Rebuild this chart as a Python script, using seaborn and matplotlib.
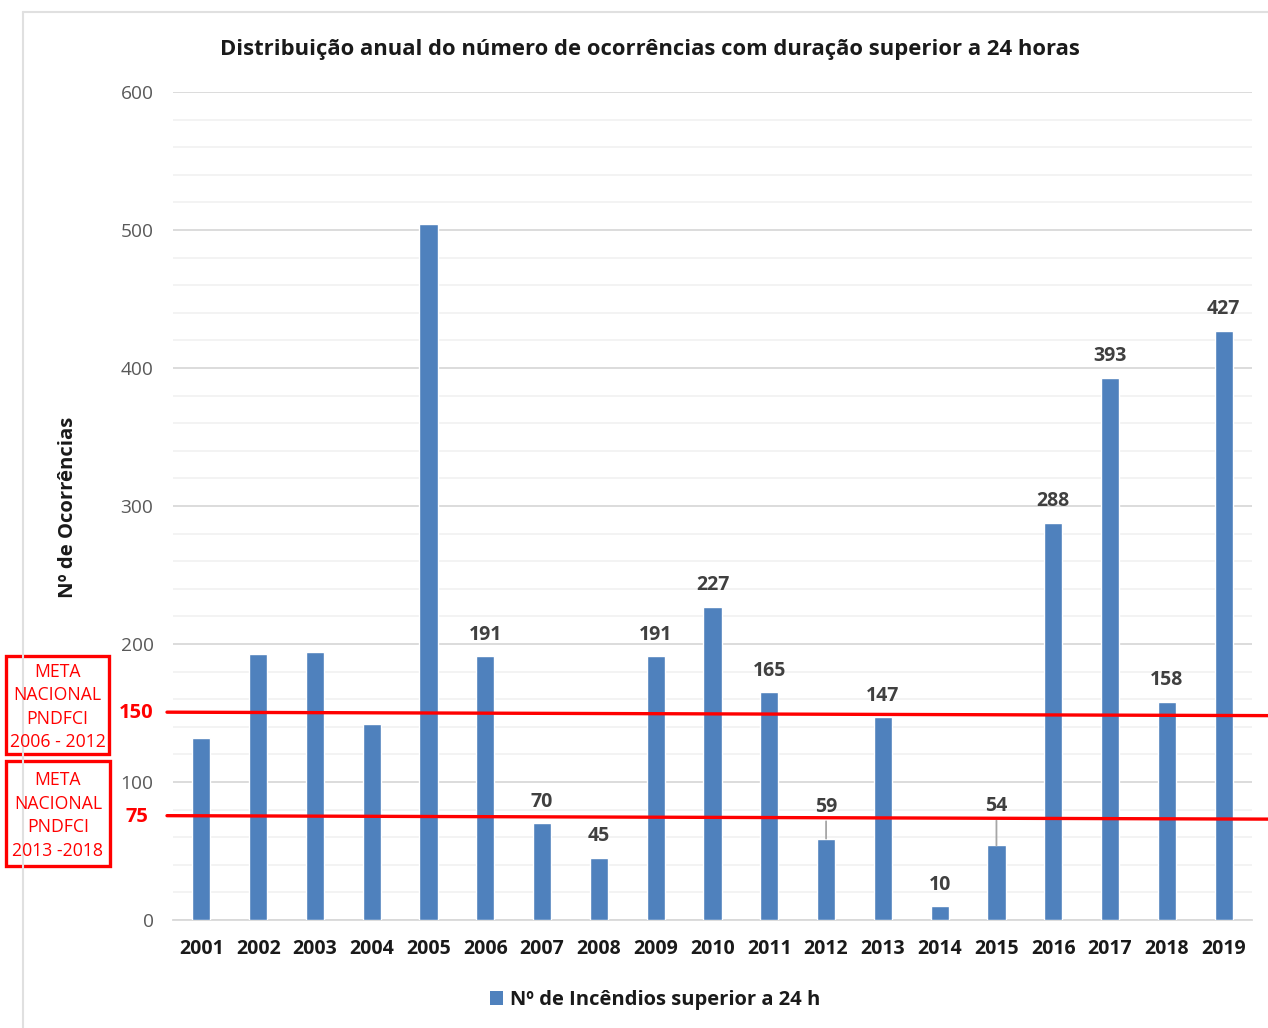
import matplotlib
matplotlib.use("Agg")
import matplotlib.pyplot as plt
import seaborn as sns
import pandas as pd
from matplotlib.patches import Patch, Rectangle
from matplotlib.lines import Line2D

# ---- data ----
years = ["2001", "2002", "2003", "2004", "2005", "2006", "2007", "2008", "2009", "2010",
         "2011", "2012", "2013", "2014", "2015", "2016", "2017", "2018", "2019"]
values = [132, 193, 194, 142, 504, 191, 70, 45, 191, 227,
          165, 59, 147, 10, 54, 288, 393, 158, 427]
labelled = [False, False, False, False, False, True, True, True, True, True,
            True, True, True, True, True, True, True, True, True]
goal_values = [150, 75]
goal_texts = ["META\nNACIONAL\nPNDFCI\n2006 - 2012", "META\nNACIONAL\nPNDFCI\n2013 -2018"]
title = "Distribuição anual do número de ocorrências com duração superior a 24 horas"
ylabel = "Nº de Ocorrências"
legend_label = "Nº de Incêndios superior a 24 h"

df = pd.DataFrame({"ano": years, "n": values})

sns.set_theme(style="white")
plt.rcParams["font.family"] = ["Open Sans", "DejaVu Sans"]

W, H = 1268, 1028
fig = plt.figure(figsize=(W / 100, H / 100), dpi=100)
ax = fig.add_axes([173 / W, 1 - 920 / H, (1252 - 173) / W, (920 - 92) / H])

bar_color = "#4f81bd"
sns.barplot(data=df, x="ano", y="n", color=bar_color, width=0.32, ax=ax,
            saturation=1, zorder=3)

ax.set_ylim(0, 600)
ax.set_xlim(-0.5, len(years) - 0.5)
ax.set_yticks(range(0, 601, 100))
ax.set_yticks(range(0, 601, 20), minor=True)
ax.grid(axis="y", which="major", color="#d9d9d9", linewidth=1.3, zorder=0)
ax.grid(axis="y", which="minor", color="#f0f0f0", linewidth=1.1, zorder=0)
ax.set_axisbelow(True)
for s in ["top", "right", "left"]:
    ax.spines[s].set_visible(False)
ax.spines["bottom"].set_color("#d9d9d9")
ax.spines["bottom"].set_linewidth(1.3)
ax.tick_params(axis="y", which="both", length=0, labelsize=13.8, labelcolor="#595959", pad=14)
ax.tick_params(axis="x", length=0, labelsize=14, labelcolor="#1a1a1a", pad=13.5)
for t in ax.get_xticklabels():
    t.set_fontweight("bold")
ax.set_xlabel("")
ax.set_ylabel("")

# value labels
for i, (v, show) in enumerate(zip(values, labelled)):
    if not show:
        continue
    if years[i] in ("2012", "2015"):
        off = 23 if years[i] == "2012" else 28.5
        ax.annotate(f"{v}", xy=(i, v), xytext=(0, off), textcoords="offset points",
                    ha="center", va="center", fontsize=14, fontweight="bold", color="#404040",
                    arrowprops=dict(arrowstyle="-", color="#a6a6a6", lw=1.3,
                                    shrinkA=1, shrinkB=0))
    else:
        ax.annotate(f"{v}", xy=(i, v), xytext=(0, 15.5), textcoords="offset points",
                    ha="center", va="center", fontsize=14, fontweight="bold", color="#404040")

# goal lines (red), extending beyond the axes
x0 = -0.5 - 6 / 56.8
x1 = len(years) - 0.5 + 16 / 56.8
for g in goal_values:
    ax.plot([x0, x1], [g + 0.6, g - 1.9], color="#ff0000", lw=2.4, clip_on=False, zorder=5)
    ax.annotate(f"{g}", xy=(x0, g), xytext=(-22, 0), textcoords="offset points",
                ha="center", va="center", fontsize=14.5, fontweight="bold", color="#ff0000",
                annotation_clip=False)

# goal boxes
boxes = [(6, 656, 109, 754), (6, 761, 110, 866)]
for (bx0, by0, bx1, by1), txt in zip(boxes, goal_texts):
    fig.patches.append(Rectangle((bx0 / W, 1 - by1 / H), (bx1 - bx0) / W, (by1 - by0) / H,
                                 transform=fig.transFigure, fill=False,
                                 edgecolor="#ff0000", lw=2.4))
    fig.text((bx0 + bx1) / 2 / W, 1 - ((by0 + by1) / 2 + 2) / H, txt, ha="center", va="center",
             fontsize=12.7, color="#ff0000", linespacing=1.4)

# border lines
fig.add_artist(Line2D([23 / W, 23 / W], [0, 1 - 12 / H], color="#e0e0e0", lw=1.5,
                      transform=fig.transFigure))
fig.add_artist(Line2D([23 / W, 1], [1 - 12 / H, 1 - 12 / H], color="#e0e0e0", lw=1.5,
                      transform=fig.transFigure))

fig.text(650 / W, 1 - 49 / H, title, ha="center", va="center", fontsize=15.8,
         fontweight="bold", color="#1a1a1a")
fig.text(68 / W, 1 - 507 / H, ylabel, ha="center", va="center", rotation=90,
         fontsize=14.6, fontweight="bold", color="#1a1a1a")

handle = Patch(facecolor=bar_color, edgecolor="none")
fig.legend([handle], [legend_label], loc="center", bbox_to_anchor=(655 / W, 1 - 1000 / H),
           frameon=False, prop={"size": 14.5, "weight": "bold"}, handlelength=0.65,
           handleheight=0.65, handletextpad=0.35, labelcolor="#1a1a1a")

fig.savefig("out.png", dpi=100)
